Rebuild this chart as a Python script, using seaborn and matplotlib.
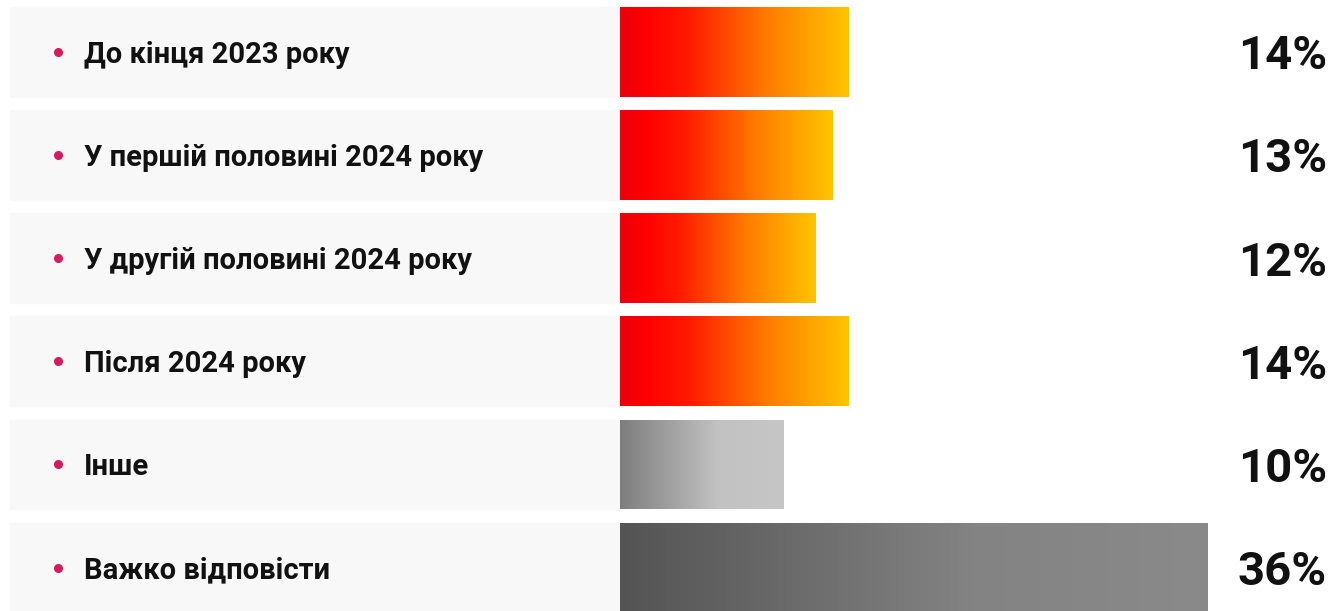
import numpy as np
import pandas as pd
import seaborn as sns
import matplotlib.pyplot as plt
from matplotlib import transforms
from matplotlib.colors import LinearSegmentedColormap

# answers and shares (%) as shown on the chart
answers = [
    "До кінця 2023 року",
    "У першій половині 2024 року",
    "У другій половині 2024 року",
    "Після 2024 року",
    "Інше",
    "Важко відповісти",
]
shares = [14, 13, 12, 14, 10, 36]
bar_kind = ["warm", "warm", "warm", "warm", "light", "dark"]

gradients = {
    "warm": LinearSegmentedColormap.from_list(
        "warm", [(0, "#e8000e"), (0.12, "#ff0000"), (0.3, "#ff1a00"),
                 (0.65, "#ff7d00"), (1, "#ffc400")]),
    "light": LinearSegmentedColormap.from_list(
        "light", [(0, "#7e7e7e"), (0.6, "#c2c2c2"), (1, "#c6c6c6")]),
    "dark": LinearSegmentedColormap.from_list(
        "dark", [(0, "#545454"), (0.6, "#838383"), (1, "#8a8a8a")]),
}

df = pd.DataFrame({"answer": answers, "share": shares})

sns.set_style("white")
plt.rcParams["font.family"] = ["Roboto", "DejaVu Sans"]

fig = plt.figure(figsize=(13.34, 6.11), dpi=100)
ax = fig.add_axes([0, 0, 1, 1])

BAR_H = 0.87
sns.barplot(data=df, x="share", y="answer", orient="h", ax=ax,
            width=BAR_H, color="#ff0000", saturation=1)

px_per_unit = 16.33
ax.set_xlim(-620 / px_per_unit, 714 / px_per_unit)
ax.set_ylim(5.42, -0.50)
ax.axis("off")

# gradient fill clipped to each bar
grad = np.linspace(0, 1, 256).reshape(1, -1)
for patch, kind in zip(ax.patches, bar_kind):
    x0, y0 = patch.get_x(), patch.get_y()
    w, h = patch.get_width(), patch.get_height()
    patch.set_facecolor("none")
    patch.set_edgecolor("none")
    im = ax.imshow(grad, cmap=gradients[kind], aspect="auto",
                   extent=(x0, x0 + w, y0 + h, y0), zorder=3)
    im.set_clip_path(patch)

# light row bands, bullets, labels and values
trans = transforms.blended_transform_factory(ax.transAxes, ax.transData)
for i, (answer, share) in enumerate(zip(answers, shares)):
    ax.axhspan(i - BAR_H / 2, i + BAR_H / 2, xmin=10 / 1334, xmax=620 / 1334,
               color="#f8f8f8", zorder=0)
    ax.plot(58 / 1334, i, "o", color="#d81b5d", markersize=5.5,
            transform=trans, zorder=4)
    ax.text(84 / 1334, i, answer, transform=trans, ha="left",
            va="center_baseline", fontsize=21, fontweight="bold",
            color="#111111", zorder=4)
    ax.text(1327 / 1334, i, f"{share}%", transform=trans, ha="right",
            va="center_baseline", fontsize=34, fontweight="bold",
            color="#111111", zorder=4)

fig.savefig("out.png", dpi=100, facecolor="white")
